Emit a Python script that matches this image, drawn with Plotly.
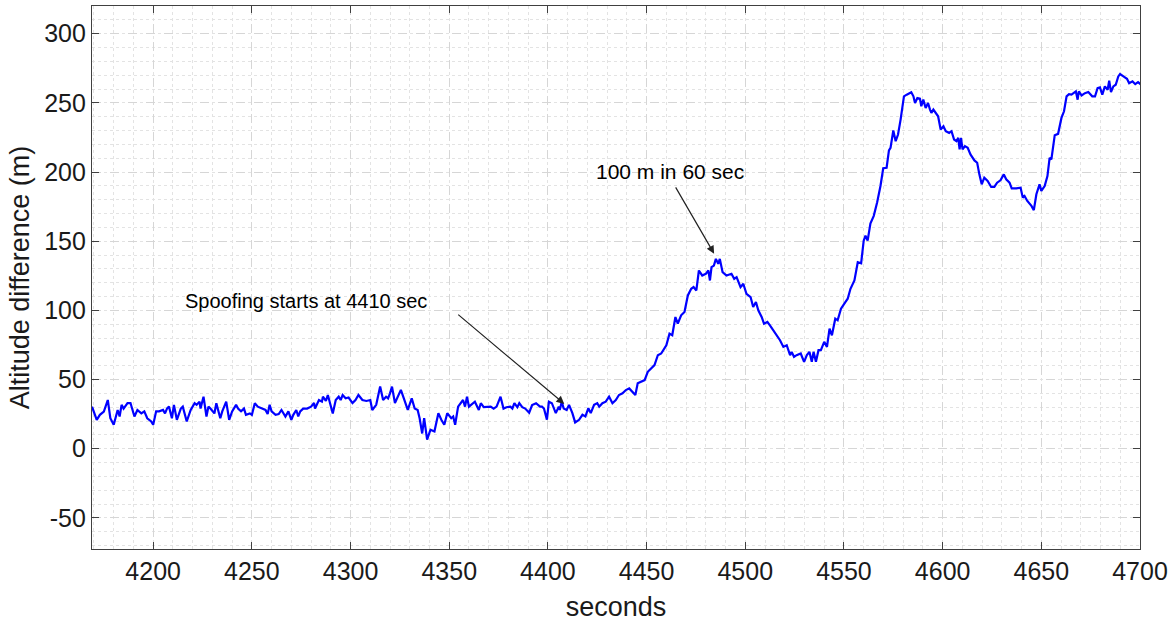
import plotly.graph_objects as go

# ---- data ----
seconds = [
    4169, 4171.4, 4173, 4175, 4177, 4178.3, 4180, 4182, 4183, 4184, 4185, 4187, 4188.5, 4190.5, 4192, 4194,
    4195.5, 4197, 4199, 4200, 4201.5, 4203, 4205, 4206, 4207, 4208, 4209.5, 4210.5, 4212, 4214, 4215, 4217,
    4219, 4221, 4222, 4223.5, 4224, 4225.5, 4227, 4228, 4229, 4231, 4232, 4234, 4235, 4237, 4238.5, 4240,
    4242, 4243, 4244.5, 4246, 4247, 4249, 4250, 4251.5, 4253, 4255.4, 4256.9, 4258, 4259, 4260, 4262, 4263.6,
    4265, 4267, 4268.5, 4270, 4271, 4272.5, 4273.5, 4274.5, 4276, 4278, 4280, 4281.5, 4282, 4284, 4285.5, 4286,
    4287.5, 4288.5, 4289.5, 4291, 4292.5, 4294, 4295, 4296, 4297.5, 4299, 4301, 4302.5, 4304, 4306, 4308, 4310,
    4311, 4313, 4315, 4316.5, 4318, 4319, 4320, 4321, 4322.5, 4324, 4325.5, 4327, 4329, 4331, 4332.5, 4334,
    4335, 4336.3, 4337.3, 4338.8, 4340.5, 4342.5, 4344.5, 4346, 4347.5, 4349, 4351, 4352, 4353, 4354.5, 4356, 4357,
    4358, 4359, 4360, 4361, 4363, 4365, 4366, 4367.5, 4369, 4371, 4372.5, 4374, 4376, 4377.5, 4379, 4381,
    4382, 4383, 4384.5, 4385.5, 4387, 4388.5, 4390.5, 4392, 4394, 4396, 4397, 4398, 4399.5, 4400.5, 4402, 4403,
    4404, 4405.5, 4406, 4407, 4408, 4409.5, 4410.7, 4412.4, 4413.8, 4415.8, 4417.5, 4419, 4420.5, 4421.7, 4423.4, 4425,
    4426, 4427.6, 4429.3, 4431, 4432.7, 4434.4, 4436, 4437.8, 4439.5, 4441.2, 4443, 4444.3, 4445.5, 4447, 4449, 4450.6,
    4452.3, 4454, 4455.7, 4457.4, 4460, 4461.6, 4463, 4464.6, 4465.8, 4467.5, 4469.2, 4470.9, 4472.6, 4473.8, 4475.2, 4476.5,
    4478.2, 4480, 4481.3, 4482.1, 4482.9, 4484.1, 4485.1, 4486.3, 4487.1, 4488.5, 4490.5, 4493, 4494.4, 4495.6, 4497.6, 4499,
    4500.6, 4502.7, 4504, 4505.4, 4506.6, 4508.3, 4509.5, 4511.2, 4512.5, 4514.2, 4515.9, 4517.6, 4519.3, 4521, 4522.7, 4523.5,
    4524.7, 4526, 4528.1, 4529.8, 4531.2, 4532.5, 4533.7, 4534.6, 4535.8, 4537.1, 4538.3, 4540, 4541.4, 4542.7, 4543.9, 4545.6,
    4546.8, 4548.5, 4550.7, 4551.9, 4553.3, 4555.3, 4557, 4558.7, 4560, 4560.9, 4562, 4563.4, 4565.1, 4566.8, 4568.5, 4569.9,
    4571.6, 4572.8, 4573.6, 4575, 4576.2, 4577.4, 4578.7, 4580.4, 4581.8, 4583, 4584.1, 4585.2, 4586, 4587.2, 4588.5, 4589.2,
    4590.2, 4591.4, 4592.6, 4593.6, 4594.3, 4595.3, 4596.5, 4597.7, 4599, 4600.4, 4601.6, 4603.3, 4604.5, 4605.8, 4607, 4607.9,
    4608.6, 4609.3, 4610.1, 4611.3, 4612.7, 4614.1, 4616.1, 4617.5, 4618.6, 4619.8, 4621.1, 4622.8, 4624.6, 4626.2, 4627.6, 4629.3,
    4631, 4632.2, 4633.9, 4635, 4637.3, 4639.5, 4640.6, 4641.5, 4642.9, 4645, 4646.2, 4647.5, 4649.1, 4650, 4651.7, 4653.1,
    4654.2, 4655.1, 4656.8, 4658.5, 4660.2, 4661.5, 4662.8, 4664, 4665.3, 4666.6, 4667.5, 4668.4, 4669, 4670.4, 4672.1, 4673.8,
    4675.8, 4677.2, 4678.5, 4679.7, 4680.9, 4682.2, 4683.6, 4684.4, 4685.3, 4686.5, 4687.7, 4689, 4689.9, 4691.6, 4693.4, 4694.5,
    4696.2, 4697.6, 4699, 4700.6, 4701.8,
]
altitude_diff = [
    30.4, 20.9, 24.5, 26.9, 35.2, 22, 17.3, 28, 23.3, 31.7, 29, 32.9, 33, 23.3, 28, 25.5,
    27, 22, 19.7, 17.3, 27, 27, 28, 25.5, 29, 30.4, 22, 31.7, 20.9, 29, 30.4, 19.7,
    28, 32.9, 31.7, 34, 29, 37.6, 23.3, 30.4, 29, 25.5, 32.9, 22, 27, 34, 20.9, 27,
    31.7, 29, 27, 29, 24.5, 25.5, 24.5, 32.9, 30.4, 29, 28, 25, 31.7, 27, 24.5, 25,
    28, 23.3, 27, 20.9, 24.5, 28, 23.3, 27, 29, 29, 30.4, 33, 29, 35.2, 34, 37.6,
    34.5, 38.8, 34, 25.5, 35.2, 37.6, 35.2, 38.8, 36.4, 37, 33, 35.2, 38.8, 35.2, 34.5, 35.2,
    28, 31.7, 44.9, 35.2, 37.6, 36.4, 40, 44.9, 33, 37.6, 42.5, 36.4, 28, 36.4, 29, 28,
    22, 11, 22, 6.5, 13.7, 12.5, 25.7, 20.9, 17.3, 25.7, 22, 23.3, 17.3, 30.4, 32.9, 35.2,
    30.4, 37.6, 30.4, 31.5, 34, 28, 32.9, 30, 30, 30.4, 29, 30.4, 37.6, 29, 30, 30.4,
    29, 32.9, 30, 32.9, 30, 29, 26, 31.5, 32.9, 30.4, 30.4, 29, 21, 34, 32.9, 29,
    25.7, 30.4, 28, 34, 29, 28, 31.7, 25.7, 19, 20.9, 24.5, 23.3, 29.3, 25.7, 31.7, 32.9,
    30.4, 32.9, 34, 37.6, 32.9, 35.2, 38.8, 40, 42.4, 43.6, 41.2, 38.8, 47.3, 48.4, 49.6, 55.6,
    58, 60.4, 67.6, 68.8, 74.8, 83.2, 82, 95.2, 90.4, 96.4, 98.8, 110.8, 115.6, 116.8, 114.4, 128.8,
    125.2, 126.4, 128.8, 121.6, 131.2, 132.4, 137.2, 133.6, 137.2, 127.6, 125.2, 126.4, 122.8, 124, 116.8, 119.2,
    112, 109.6, 102.4, 106, 100, 95.2, 90.4, 91.6, 89.2, 85.6, 82, 78.4, 73.6, 74.8, 67.6, 70,
    66.4, 67.6, 68.8, 62.8, 67.6, 70, 62.8, 70, 62.8, 71.2, 71.2, 77.2, 73.6, 86.8, 82, 94,
    92.8, 101.2, 106, 108.4, 115.6, 121.6, 134.8, 134, 150.4, 154, 150.4, 162.8, 168.3, 177.9, 189.9, 202.7,
    203.1, 215.6, 217.5, 230, 222.3, 227.1, 237.9, 254.7, 255.9, 257, 257.6, 254.7, 249.9, 253.5, 253, 247.5,
    252.3, 246.3, 249.9, 245.1, 242.7, 245.1, 242.7, 240.3, 230.7, 233.1, 229.5, 228.3, 229.5, 223.5, 222.3, 224.7,
    216.3, 224.7, 216.3, 218.7, 217.5, 212.7, 208.4, 206.7, 198.3, 191.1, 195.9, 193.5, 189.2, 189.2, 192.3, 194,
    198.3, 194.7, 192.3, 188.2, 188.2, 188.7, 181.5, 182.7, 179.1, 175.5, 172.4, 183.9, 191.1, 186.3, 189.9, 197.1,
    210.3, 209.1, 226.6, 227.6, 239.1, 243.9, 254.7, 256.3, 255.9, 257.6, 258.3, 252.3, 258.3, 255.4, 257, 257.8,
    254.7, 254.7, 260.6, 261.2, 255.9, 261.9, 259.5, 266, 257.8, 261.9, 263.1, 269.1, 270.8, 269.1, 267.4, 264.2,
    265.5, 263.5, 265, 263.1, 263.5,
]

x_ticks = [4200, 4250, 4300, 4350, 4400, 4450, 4500, 4550, 4600, 4650, 4700]
y_ticks = [-50, 0, 50, 100, 150, 200, 250, 300]

# annotations: text, text position, arrow tail, arrow tip (data units)
note_texts = ["Spoofing starts at 4410 sec", "100 m in 60 sec"]
note_sizes = [20, 21]
note_text_xy = [(4277.5, 107), (4461.8, 200.5)]
note_tail_xy = [(4353.8, 97.8), (4464.3, 190)]
note_tip_xy = [(4408.3, 32.4), (4484.2, 141)]

FONT = "Liberation Sans, Arial, Helvetica, sans-serif"

fig = go.Figure()
fig.add_trace(go.Scatter(x=seconds, y=altitude_diff, mode="lines",
                         line=dict(color="#0000ff", width=2.2), showlegend=False,
                         hoverinfo="skip"))

annotations = []
for txt, sz, (tx, ty), (ax_, ay_), (px_, py_) in zip(note_texts, note_sizes, note_text_xy,
                                                      note_tail_xy, note_tip_xy):
    annotations.append(dict(x=tx, y=ty, xref="x", yref="y", text=txt, showarrow=False,
                            font=dict(family=FONT, size=sz, color="#000000")))
    annotations.append(dict(x=px_, y=py_, xref="x", yref="y", ax=ax_, ay=ay_,
                            axref="x", ayref="y", text="", showarrow=True,
                            arrowhead=2, arrowsize=1.3, arrowwidth=1.2, arrowcolor="#222222"))

axis_common = dict(
    showline=True, linecolor="#404040", linewidth=1.2, mirror="ticks",
    ticks="inside", ticklen=7, tickwidth=1.2, tickcolor="#404040",
    showgrid=True, gridcolor="#d6d6d6", griddash="dash", gridwidth=1,
    zeroline=False,
    tickfont=dict(family=FONT, size=25, color="#1a1a1a"),
)

fig.update_layout(
    width=1173, height=628,
    margin=dict(l=92, r=33, t=6, b=79),
    paper_bgcolor="white", plot_bgcolor="white",
    annotations=annotations,
    xaxis=dict(range=[4169, 4700], tickvals=x_ticks, ticktext=[str(v) for v in x_ticks],
               minor=dict(dtick=10, showgrid=True, gridcolor="#e3e3e3", griddash="dot", ticks=""),
               title=dict(text="seconds", font=dict(family=FONT, size=27, color="#1a1a1a"), standoff=13),
               **axis_common),
    yaxis=dict(range=[-72.5, 320], tickvals=y_ticks, ticktext=[str(v) for v in y_ticks],
               minor=dict(dtick=10, showgrid=True, gridcolor="#e3e3e3", griddash="dot", ticks=""),
               title=dict(text="Altitude difference (m)", font=dict(family=FONT, size=27, color="#1a1a1a"), standoff=6),
               **axis_common),
)

fig.write_html("out.html")
